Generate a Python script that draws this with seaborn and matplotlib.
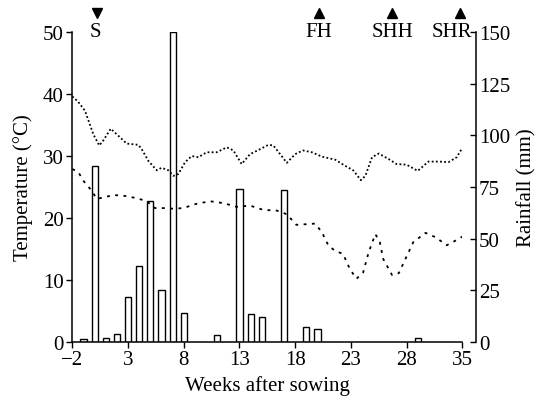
import matplotlib
matplotlib.use('Agg')
import matplotlib.pyplot as plt
import seaborn as sns
from matplotlib.transforms import blended_transform_factory

# ---------------- data ----------------
rain_weeks = [-1, 0, 1, 2, 3, 4, 5, 6, 7, 8, 11, 13, 14, 15, 17, 19, 20, 29]
rain_mm = [1.5, 85, 2, 4, 22, 37, 68, 25, 150, 14, 3.5, 74, 13.5, 12.3, 73.5, 7.4, 6.3, 2]

tmax_weeks = [-2, -1.5, -0.86, -0.11, 0.42, 0.78, 1.45, 1.99, 2.88, 3.93, 4.23, 4.83,
              5.58, 6.02, 6.62, 7.07, 7.52, 8.12, 8.72, 9.31, 10.06, 10.96, 11.86,
              12.45, 13.2, 13.95, 14.85, 15.6, 16.04, 16.65, 17.25, 18.0, 18.7, 19.5,
              20.4, 21.6, 22.5, 23.2, 23.9, 24.3, 24.9, 25.5, 26.4, 27.1, 28.0, 29.0,
              29.96, 30.9, 31.75, 32.5, 33]
tmax = [39.6, 38.8, 37.3, 33.5, 31.7, 32.5, 34.4, 33.5, 32.0, 31.8, 31.1, 29.2,
        27.7, 28.1, 27.7, 26.8, 27.1, 29.0, 30.0, 29.8, 30.6, 30.6, 31.4,
        30.9, 28.7, 30.3, 31.1, 31.8, 31.7, 30.3, 28.9, 30.3, 30.9, 30.6,
        29.9, 29.4, 28.4, 27.7, 26.1, 26.8, 29.8, 30.4, 29.5, 28.7, 28.6, 27.6,
        29.1, 29.1, 29.0, 29.8, 31.3]

tmin_weeks = [-2, -1.46, -1.0, -0.26, 0.19, 0.78, 1.68, 2.58, 3.78, 4.68, 5.42, 6.17,
              7.07, 7.96, 9.17, 10.36, 11.56, 12.76, 13.95, 15.15, 16.35, 17.25, 18.1,
              19.0, 19.8, 20.4, 21.0, 21.6, 22.3, 22.9, 23.5, 24.1, 24.6, 25.2, 25.6,
              25.9, 26.7, 27.3, 27.9, 28.6, 29.7, 30.6, 31.6, 32.65, 33]
tmin = [27.9, 27.4, 26.0, 24.4, 23.1, 23.3, 23.7, 23.6, 23.2, 22.7, 21.6, 21.6,
        21.5, 21.6, 22.3, 22.7, 22.4, 21.8, 22.0, 21.3, 21.2, 20.6, 18.9,
        19.0, 19.1, 17.7, 15.5, 14.7, 14.2, 11.8, 10.2, 11.2, 14.5, 17.4, 16.1,
        13.4, 10.8, 11.1, 13.4, 16.1, 17.6, 16.9, 15.6, 16.6, 17.0]

x_ticks = [-2, 3, 8, 13, 18, 23, 28, 33]
x_tick_labels = ['\u22122', '3', '8', '13', '18', '23', '28', '35']
temp_ticks = [0, 10, 20, 30, 40, 50]
rain_ticks = [0, 25, 50, 75, 100, 125, 150]

event_labels = ['S', 'FH', 'SHH', 'SHR']
event_weeks = [0.2, 20.1, 26.7, 32.8]
event_text_weeks = [0.1, 20.1, 26.7, 32.1]
event_markers = ['v', '^', '^', '^']

# ---------------- style ----------------
sns.set_theme(style='ticks')
plt.rcParams['font.family'] = ['Liberation Serif', 'DejaVu Serif']
plt.rcParams['axes.edgecolor'] = 'black'
plt.rcParams['xtick.color'] = 'black'
plt.rcParams['ytick.color'] = 'black'
plt.rcParams['text.color'] = 'black'
plt.rcParams['axes.labelcolor'] = 'black'

FS = 15

fig = plt.figure(figsize=(5.45, 4.02), dpi=100)
ax = fig.add_axes([72.3 / 545, 59 / 402, 390 / 545, 310 / 402])
ax2 = ax.twinx()
ax.set_zorder(ax2.get_zorder() + 1)
ax.patch.set_visible(False)

# rainfall bars
sns.barplot(x=rain_weeks, y=rain_mm, native_scale=True, width=0.55, ax=ax2,
            color='white', edgecolor='black', linewidth=1.0, errorbar=None,
            saturation=1)

# temperature lines
sns.lineplot(x=tmax_weeks, y=tmax, ax=ax, color='black', linewidth=1.3,
             estimator=None, sort=False)
sns.lineplot(x=tmin_weeks, y=tmin, ax=ax, color='black', linewidth=1.3,
             estimator=None, sort=False)
ax.lines[0].set_linestyle((0, (1, 1.3)))
ax.lines[1].set_linestyle((0, (1.6, 3.0)))

# axes limits & ticks
ax.set_xlim(-2, 33)
ax.set_ylim(0, 50)
ax2.set_ylim(0, 150)
ax.set_xticks(x_ticks)
ax.set_xticklabels(x_tick_labels)
ax.set_yticks(temp_ticks)
ax2.set_yticks(rain_ticks)

ax.tick_params(axis='both', direction='out', length=4, width=1, labelsize=FS, pad=2)
ax2.tick_params(axis='y', direction='in', length=4, width=1, labelsize=FS, pad=2)

for s in ['top', 'right']:
    ax.spines[s].set_visible(False)
for s in ['top', 'left', 'bottom']:
    ax2.spines[s].set_visible(False)
ax2.spines['right'].set_position(('outward', 10))
for sp in ax.spines.values():
    sp.set_linewidth(1.1)
ax2.spines['right'].set_linewidth(1.1)

ax.set_xlabel('Weeks after sowing', fontsize=FS, labelpad=4)
ax.set_ylabel('Temperature (\u00b0C)', fontsize=FS, labelpad=7)
ax2.set_ylabel('Rainfall (mm)', fontsize=FS, labelpad=5)

# event markers on top
trans = blended_transform_factory(ax.transData, ax.transAxes)
for lab, xw, xt, mk in zip(event_labels, event_weeks, event_text_weeks, event_markers):
    ax.plot([xw], [1.061], marker=mk, color='black', markersize=6.5,
            transform=trans, clip_on=False, linestyle='none')
    ax.text(xt, 1.0, lab, transform=trans, ha='center', va='center',
            fontsize=FS, clip_on=False)

fig.savefig('out.png', dpi=100)
